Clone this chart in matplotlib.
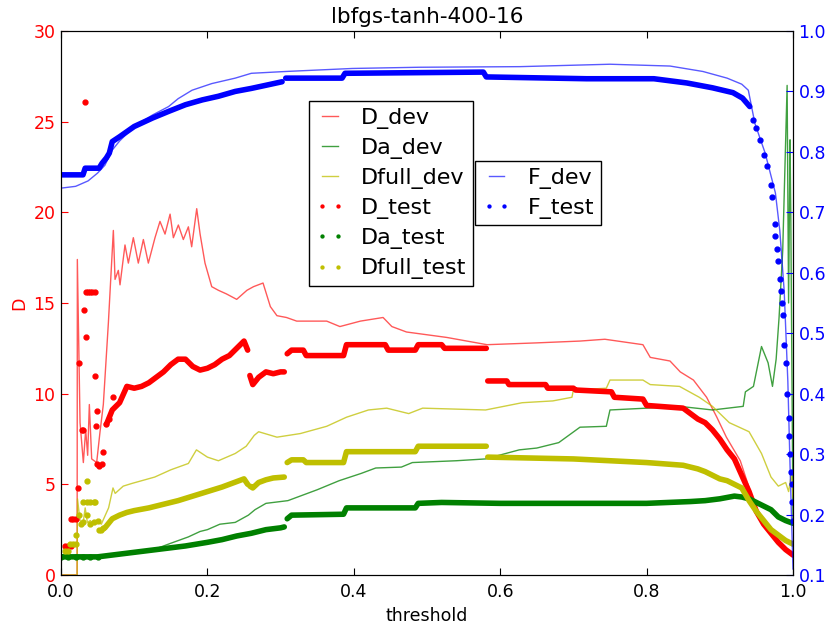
import matplotlib
matplotlib.use('Agg')
from matplotlib import pyplot as plt

# thin "dev" curves: (threshold, value) pairs
d_dev_x = [0.0, 0.022, 0.0223, 0.026, 0.0305, 0.0337, 0.0364, 0.0387, 0.0419, 0.0487, 0.0533, 0.0578,
           0.0647, 0.0715, 0.0738, 0.0783, 0.0806, 0.0874, 0.092, 0.0988, 0.1056, 0.1125, 0.1193, 0.1284,
           0.1352, 0.1421, 0.149, 0.1535, 0.1603, 0.1671, 0.174, 0.1785, 0.1854, 0.19, 0.1967, 0.2059,
           0.215, 0.226, 0.24, 0.254, 0.263, 0.276, 0.286, 0.295, 0.308, 0.322, 0.363, 0.381, 0.409,
           0.44, 0.452, 0.472, 0.527, 0.582, 0.65, 0.709, 0.743, 0.795, 0.805, 0.832, 0.846, 0.864,
           0.882, 0.896, 0.909, 0.928, 0.941, 0.95, 0.969, 0.987, 1.0]
d_dev_y = [0.0, 0.0, 17.4, 8.4, 6.2, 8.0, 6.6, 9.4, 6.4, 6.2, 7.9, 9.4,
           13.9, 19.0, 16.3, 16.8, 16.0, 18.2, 17.2, 18.6, 17.2, 18.5, 17.2, 18.6,
           19.5, 18.8, 19.9, 18.6, 19.3, 18.5, 19.2, 18.1, 20.2, 18.8, 17.2, 15.9,
           15.7, 15.5, 15.2, 15.7, 15.9, 16.1, 14.8, 14.3, 14.2, 14.0, 14.0, 13.7, 14.0,
           14.2, 13.7, 13.4, 13.1, 12.7, 12.8, 12.9, 13.0, 12.7, 12.0, 11.8, 11.2, 10.75,
           9.8, 8.7, 7.6, 6.3, 4.7, 3.6, 2.3, 1.5, 1.1]

da_dev_x = [0.0, 0.05, 0.1, 0.13, 0.15, 0.174, 0.19, 0.2, 0.217, 0.238, 0.256, 0.265, 0.28, 0.31,
            0.35, 0.38, 0.41, 0.43, 0.465, 0.48, 0.54, 0.58, 0.626, 0.65, 0.68, 0.709, 0.745, 0.75,
            0.80, 0.845, 0.89, 0.932, 0.935, 0.946, 0.957, 0.966, 0.972, 0.977, 0.981, 0.986, 0.992,
            0.994, 0.996, 0.997, 1.0]
da_dev_y = [1.0, 1.0, 1.25, 1.45, 1.75, 2.1, 2.4, 2.5, 2.8, 2.9, 3.3, 3.6, 3.95, 4.1,
            4.7, 5.2, 5.6, 5.9, 5.95, 6.2, 6.3, 6.4, 6.9, 7.0, 7.3, 8.15, 8.2, 9.1,
            9.2, 9.3, 9.1, 9.3, 10.1, 10.4, 12.6, 11.7, 10.4, 11.9, 14.2, 17.9, 27.0,
            15.0, 24.0, 20.0, 3.0]

dfull_dev_x = [0.0, 0.022, 0.0225, 0.026, 0.03, 0.033, 0.036, 0.04, 0.045, 0.05, 0.055, 0.065, 0.071,
               0.074, 0.085, 0.097, 0.128, 0.15, 0.174, 0.185, 0.2, 0.215, 0.238, 0.253, 0.264, 0.27,
               0.295, 0.327, 0.363, 0.39, 0.42, 0.445, 0.465, 0.475, 0.494, 0.58, 0.63, 0.672, 0.698,
               0.70, 0.745, 0.75, 0.795, 0.805, 0.845, 0.872, 0.89, 0.913, 0.94, 0.957, 0.97, 0.98,
               0.99, 0.994, 0.998, 1.0]
dfull_dev_y = [0.0, 0.0, 4.2, 3.0, 2.8, 3.7, 2.9, 3.0, 2.8, 3.0, 2.8, 3.7, 4.8,
               4.5, 4.9, 5.05, 5.4, 5.8, 6.15, 6.9, 6.5, 6.3, 6.7, 7.1, 7.7, 7.9,
               7.6, 7.8, 8.2, 8.7, 9.1, 9.2, 9.0, 8.9, 9.2, 9.1, 9.5, 9.6, 9.8,
               10.2, 10.3, 10.75, 10.75, 10.5, 10.4, 9.8, 9.3, 8.4, 7.9, 6.7, 5.4, 4.9,
               5.1, 4.6, 5.6, 4.3]

f_dev_x = [0.0, 0.02, 0.037, 0.05, 0.06, 0.07, 0.08, 0.1, 0.125, 0.147, 0.16, 0.179, 0.206, 0.238,
           0.26, 0.307, 0.398, 0.489, 0.627, 0.75, 0.832, 0.877, 0.91, 0.93, 0.939, 0.948, 0.962,
           0.976, 0.982, 0.988, 0.993, 0.996, 1.0]
f_dev_y = [0.740, 0.743, 0.752, 0.765, 0.778, 0.803, 0.818, 0.842, 0.861, 0.875, 0.888, 0.902, 0.913, 0.922,
           0.93, 0.933, 0.938, 0.94, 0.941, 0.945, 0.942, 0.933, 0.922, 0.912, 0.902, 0.847, 0.798,
           0.732, 0.67, 0.57, 0.42, 0.28, 0.11]

# "test" curves: loose dots where they scatter, dense runs (drawn as thick bands) elsewhere
d_test_dots_x = [0.006, 0.010, 0.014, 0.013, 0.017, 0.021, 0.0228, 0.0246, 0.028, 0.030, 0.032, 0.033,
                 0.034, 0.034, 0.037, 0.040, 0.043, 0.046, 0.046, 0.049, 0.048, 0.049, 0.052, 0.056,
                 0.058, 0.062, 0.066, 0.071]
d_test_dots_y = [1.6, 1.6, 1.6, 3.1, 3.1, 3.1, 4.8, 11.7, 8.0, 8.0, 14.6, 26.1,
                 13.1, 15.6, 15.6, 15.6, 15.6, 15.6, 11.0, 9.05, 8.2, 6.1, 6.0, 6.1,
                 6.8, 8.3, 8.6, 9.8]
d_test_runs = [
    ([0.062, 0.07, 0.08, 0.09, 0.10, 0.11, 0.12, 0.13, 0.14, 0.15, 0.16, 0.17, 0.18, 0.19, 0.20,
      0.21, 0.22, 0.23, 0.24, 0.25, 0.255],
     [8.3, 9.1, 9.5, 10.4, 10.3, 10.4, 10.6, 10.9, 11.2, 11.6, 11.9, 11.9, 11.5, 11.3, 11.4,
      11.6, 11.9, 12.1, 12.5, 12.9, 12.4]),
    ([0.258, 0.262, 0.27, 0.28, 0.29, 0.30, 0.305],
     [11.0, 10.5, 10.9, 11.2, 11.1, 11.2, 11.2]),
    ([0.309, 0.315, 0.331, 0.335, 0.386, 0.39, 0.443, 0.447, 0.484, 0.488, 0.52, 0.524, 0.581],
     [12.2, 12.4, 12.4, 12.1, 12.1, 12.7, 12.7, 12.4, 12.4, 12.7, 12.7, 12.5, 12.5]),
    ([0.583, 0.609, 0.612, 0.662, 0.665, 0.70, 0.703, 0.752, 0.756, 0.795, 0.80, 0.85, 0.86, 0.87,
      0.88, 0.89, 0.90, 0.91, 0.92, 0.93, 0.94, 0.95, 0.96, 0.97, 0.98, 0.99, 1.0],
     [10.7, 10.7, 10.5, 10.5, 10.3, 10.3, 10.2, 10.1, 9.8, 9.7, 9.35, 9.2, 8.9, 8.6,
      8.4, 8.0, 7.5, 6.9, 6.4, 5.5, 4.6, 3.5, 2.8, 2.3, 1.8, 1.4, 1.1]),
]

da_test_dots_x = [0.0, 0.01, 0.02, 0.03, 0.04, 0.05]
da_test_dots_y = [1.0, 1.0, 1.0, 1.0, 1.0, 1.0]
da_test_runs = [
    ([0.0, 0.05, 0.07, 0.10, 0.13, 0.15, 0.17, 0.20, 0.22, 0.24, 0.26, 0.28, 0.30, 0.305],
     [1.0, 1.0, 1.1, 1.25, 1.4, 1.5, 1.6, 1.8, 1.95, 2.15, 2.3, 2.5, 2.6, 2.65]),
    ([0.309, 0.315, 0.386, 0.39, 0.484, 0.488, 0.52, 0.60, 0.80, 0.86, 0.88, 0.90, 0.92, 0.93,
      0.94, 0.95, 0.96, 0.97, 0.98, 0.99, 1.0],
     [3.1, 3.3, 3.35, 3.7, 3.7, 3.95, 4.0, 3.95, 3.95, 4.05, 4.1, 4.2, 4.35, 4.3,
      4.2, 4.0, 3.8, 3.6, 3.2, 3.0, 2.85]),
]

dfull_test_dots_x = [0.006, 0.010, 0.012, 0.016, 0.020, 0.021, 0.025, 0.027, 0.030, 0.035, 0.030,
                     0.035, 0.040, 0.045, 0.047, 0.036, 0.040, 0.045, 0.050, 0.052, 0.055, 0.058]
dfull_test_dots_y = [1.3, 1.3, 1.7, 1.7, 1.7, 2.2, 3.3, 2.8, 2.9, 5.2, 4.0,
                     4.0, 4.0, 4.0, 4.0, 3.3, 2.8, 2.9, 3.0, 2.5, 2.5, 2.6]
dfull_test_runs = [
    ([0.06, 0.07, 0.08, 0.09, 0.10, 0.12, 0.14, 0.16, 0.18, 0.20, 0.22, 0.24, 0.25, 0.255],
     [2.6, 3.1, 3.3, 3.45, 3.55, 3.7, 3.9, 4.1, 4.35, 4.6, 4.85, 5.15, 5.3, 5.0]),
    ([0.258, 0.262, 0.27, 0.28, 0.29, 0.305],
     [4.9, 4.8, 5.1, 5.25, 5.35, 5.4]),
    ([0.309, 0.315, 0.331, 0.335, 0.386, 0.39, 0.484, 0.488, 0.581],
     [6.2, 6.35, 6.35, 6.2, 6.2, 6.8, 6.8, 7.1, 7.1]),
    ([0.583, 0.70, 0.80, 0.85, 0.87, 0.88, 0.89, 0.90, 0.91, 0.92, 0.93, 0.94, 0.95, 0.96, 0.97,
      0.98, 0.99, 1.0],
     [6.5, 6.4, 6.2, 6.05, 5.85, 5.7, 5.5, 5.3, 5.2, 5.0, 4.8, 4.1, 3.5, 3.0, 2.5,
      2.2, 1.9, 1.7]),
]

f_test_runs = [
    ([0.0, 0.03, 0.033, 0.052, 0.056, 0.062, 0.066, 0.07, 0.08, 0.10, 0.125, 0.147, 0.17, 0.193,
      0.215, 0.238, 0.26, 0.283, 0.302],
     [0.762, 0.762, 0.773, 0.773, 0.781, 0.79, 0.798, 0.817, 0.825, 0.842, 0.856, 0.867, 0.878, 0.886,
      0.892, 0.9, 0.905, 0.911, 0.916]),
    ([0.307, 0.384, 0.388, 0.577, 0.581, 0.718, 0.81, 0.855, 0.89, 0.918, 0.931, 0.941],
     [0.922, 0.922, 0.93, 0.932, 0.924, 0.921, 0.921, 0.914, 0.906, 0.898, 0.889, 0.875]),
]
f_test_dots_x = [0.945, 0.95, 0.955, 0.96, 0.965, 0.97, 0.972, 0.975, 0.976, 0.978, 0.98, 0.982,
                 0.984, 0.985, 0.986, 0.988, 0.99, 0.992, 0.994, 0.995, 0.996, 0.997, 0.998, 0.999, 1.0]
f_test_dots_y = [0.853, 0.84, 0.82, 0.795, 0.776, 0.745, 0.725, 0.68, 0.66, 0.64, 0.62, 0.59,
                 0.57, 0.55, 0.53, 0.48, 0.45, 0.40, 0.36, 0.33, 0.30, 0.27, 0.25, 0.22, 0.19]

plt.rcParams['font.family'] = 'DejaVu Sans'
plt.rcParams['font.size'] = 12.5

fig = plt.figure(figsize=(8.37, 6.26), dpi=100)
ax = fig.add_axes([0.0729, 0.0815, 0.8745, 0.869])
ax2 = ax.twinx()

ms = 7
band = 4.0

h1, = ax.plot(d_dev_x, d_dev_y, '-', color='r', lw=1, alpha=0.65, label='D_dev')
h2, = ax.plot(da_dev_x, da_dev_y, '-', color='g', lw=1, alpha=0.75, label='Da_dev')
h3, = ax.plot(dfull_dev_x, dfull_dev_y, '-', color='y', lw=1, alpha=0.75, label='Dfull_dev')

for runs, c in [(d_test_runs, 'r'), (da_test_runs, 'g'), (dfull_test_runs, 'y')]:
    for xs, ys in runs:
        ax.plot(xs, ys, '-', color=c, lw=band, solid_capstyle='round', solid_joinstyle='round')
h4, = ax.plot(d_test_dots_x, d_test_dots_y, '.', color='r', ms=ms, label='D_test')
h5, = ax.plot(da_test_dots_x, da_test_dots_y, '.', color='g', ms=ms, label='Da_test')
h6, = ax.plot(dfull_test_dots_x, dfull_test_dots_y, '.', color='y', ms=ms, label='Dfull_test')

g1, = ax2.plot(f_dev_x, f_dev_y, '-', color='b', lw=1, alpha=0.65, label='F_dev')
for xs, ys in f_test_runs:
    ax2.plot(xs, ys, '-', color='b', lw=band, solid_capstyle='round', solid_joinstyle='round')
g2, = ax2.plot(f_test_dots_x, f_test_dots_y, '.', color='b', ms=ms, label='F_test')

ax.set_xlim(0, 1)
ax.set_ylim(0, 30)
ax2.set_ylim(0.1, 1.0)
ax.set_xticks([0.0, 0.2, 0.4, 0.6, 0.8, 1.0])
ax.set_yticks([0, 5, 10, 15, 20, 25, 30])
ax2.set_yticks([0.1, 0.2, 0.3, 0.4, 0.5, 0.6, 0.7, 0.8, 0.9, 1.0])

ax.tick_params(axis='x', direction='in', length=5, top=True, pad=6)
ax.tick_params(axis='y', direction='in', length=5, colors='r', right=False, pad=4)
ax2.tick_params(axis='y', direction='in', length=5, colors='b', pad=4)
for a in (ax, ax2):
    for s in a.spines.values():
        s.set_color('k')

ax.set_xlabel('threshold')
ax.set_ylabel('D', color='r')
ax2.set_ylabel('F', color='b')
ax2.yaxis.set_label_coords(1.058, 0.5)
ax.set_title('lbfgs-tanh-400-16', fontsize=15.5)

leg_kw = dict(loc='upper left', borderaxespad=0, fancybox=False, framealpha=1, edgecolor='k',
              numpoints=2, markerscale=0.6, fontsize=16, handlelength=1.3, handletextpad=0.75,
              labelspacing=0.41, borderpad=0.3)
leg1 = ax2.legend(handles=[h1, h2, h3, h4, h5, h6], bbox_to_anchor=(0.339, 0.871), **leg_kw)
ax2.add_artist(leg1)
leg2 = ax2.legend(handles=[g1, g2], bbox_to_anchor=(0.566, 0.761), **leg_kw)
for lg in (leg1, leg2):
    lg.get_frame().set_linewidth(1.0)

fig.savefig('out.png', dpi=100)
